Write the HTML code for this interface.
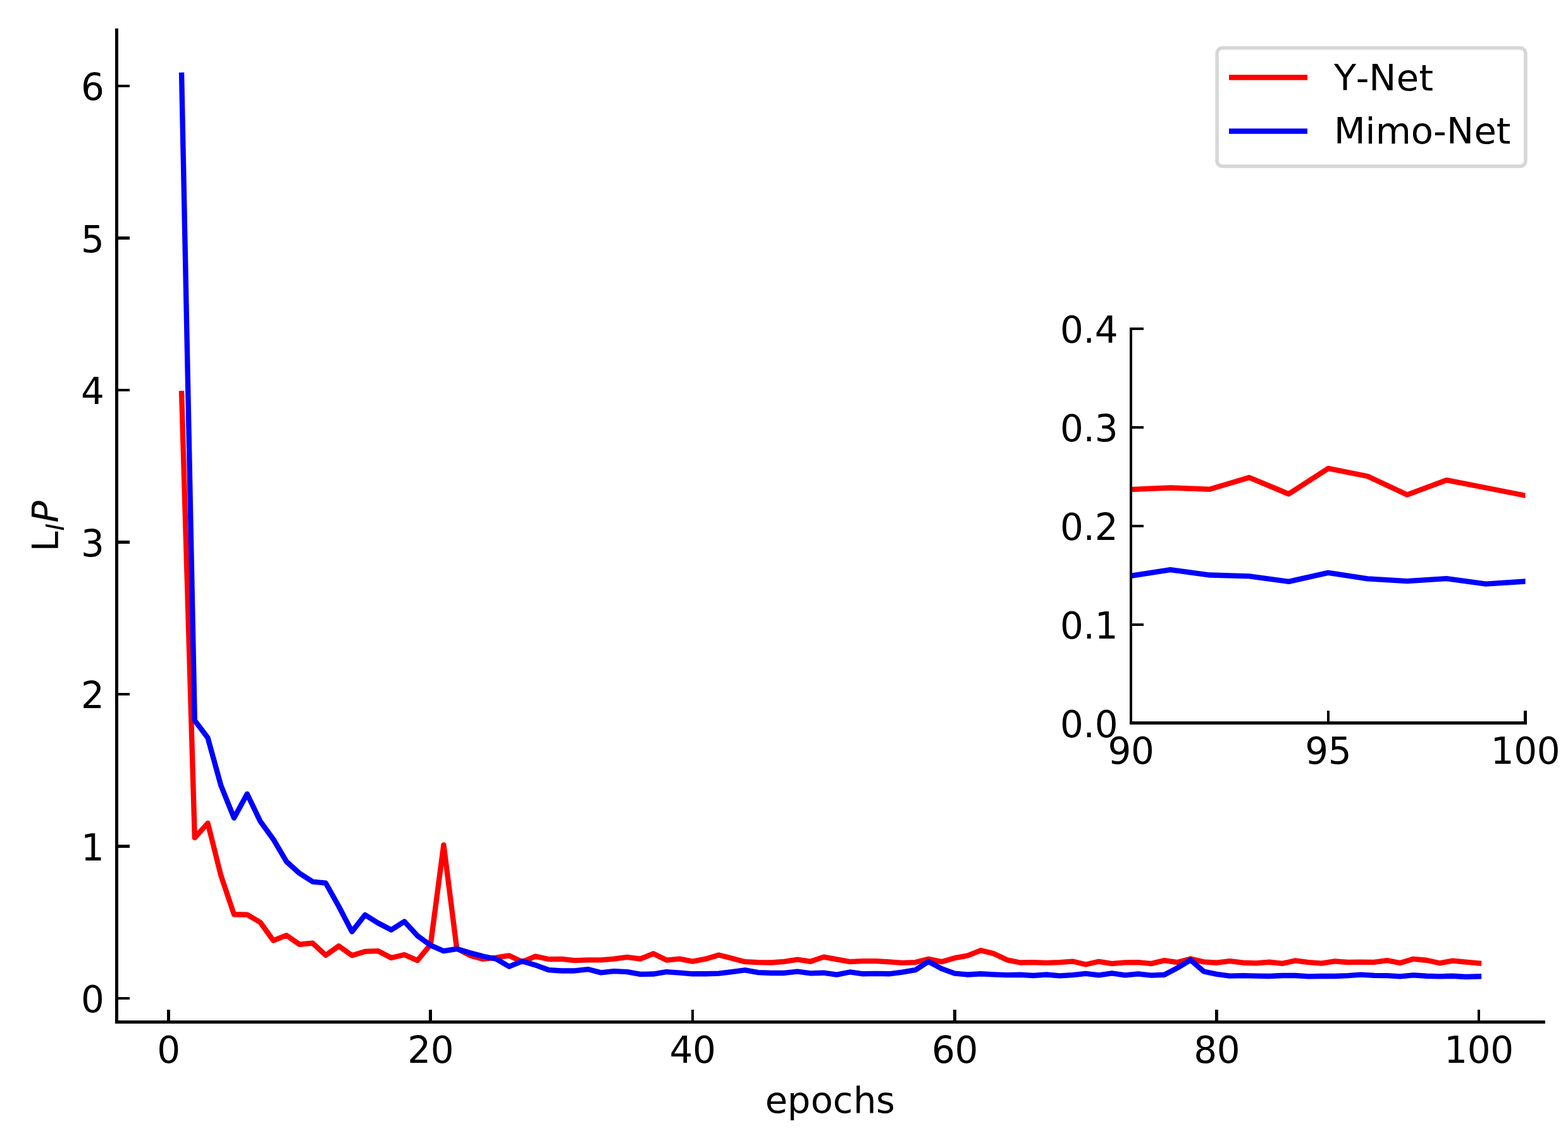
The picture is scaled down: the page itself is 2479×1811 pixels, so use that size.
<!DOCTYPE html>
<html lang="en"><head><meta charset="utf-8"><title>Loss curves: Y-Net vs Mimo-Net</title>
<style>
html,body{margin:0;padding:0;background:#fff;}
body{width:2479px;height:1811px;overflow:hidden;}
svg{display:block;}
svg{font-family:"DejaVu Sans", "Liberation Sans", sans-serif;font-size:57.6px;}
text{fill:#000;}
.tick{font-size:58px;}
.it{font-style:italic;}
</style></head><body>
<svg width="2479" height="1811" viewBox="0 0 2479 1811">
<rect x="0" y="0" width="2479" height="1811" fill="#ffffff"/>
<defs>
<clipPath id="cm"><rect x="184.5" y="47.5" width="2256.0" height="1569.0"/></clipPath>
<clipPath id="ci"><rect x="1788.0" y="520.0" width="623.5999999999999" height="623.5"/></clipPath>
</defs>
<g id="main-lines" clip-path="url(#cm)" fill="none" stroke-linejoin="round" stroke-linecap="square">
<polyline points="287.12,622.29 307.83,1325.03 328.55,1301.94 349.27,1384.68 369.98,1446.24 390.70,1446.72 411.41,1458.75 432.13,1487.61 452.85,1479.43 473.56,1493.74 494.28,1491.70 515.00,1510.94 535.71,1496.27 556.43,1511.18 577.14,1504.93 597.86,1504.20 618.58,1515.03 639.29,1509.98 660.01,1519.12 680.73,1493.86 701.44,1336.34 722.16,1500.12 742.87,1511.18 763.59,1516.95 784.31,1514.55 805.02,1511.42 825.74,1521.28 846.46,1512.67 867.17,1517.05 887.89,1516.81 908.61,1519.19 929.32,1518.30 950.04,1518.30 970.75,1516.71 991.47,1513.92 1012.19,1516.71 1032.90,1508.29 1053.62,1518.54 1074.34,1516.71 1095.05,1520.56 1115.77,1516.71 1136.48,1510.46 1157.20,1515.80 1177.92,1521.18 1198.63,1522.07 1219.35,1522.48 1240.07,1520.80 1260.78,1517.67 1281.50,1520.80 1302.22,1513.58 1322.93,1517.43 1343.65,1521.18 1364.36,1520.17 1385.08,1520.17 1405.80,1521.42 1426.51,1522.96 1447.23,1522.07 1467.95,1516.71 1488.66,1521.18 1509.38,1515.17 1530.09,1511.42 1550.81,1503.24 1571.53,1508.41 1592.24,1518.30 1612.96,1522.48 1633.68,1522.07 1654.39,1522.96 1675.11,1522.07 1695.82,1520.56 1716.54,1525.44 1737.26,1520.80 1757.97,1524.17 1778.69,1522.36 1799.41,1522.07 1820.12,1524.17 1840.84,1519.12 1861.56,1522.07 1882.27,1516.47 1902.99,1521.42 1923.70,1522.72 1944.42,1520.17 1965.14,1522.72 1985.85,1523.32 2006.57,1521.76 2027.29,1523.93 2048.00,1519.36 2068.72,1522.07 2089.43,1523.56 2110.15,1520.44 2130.87,1521.98 2151.58,1521.57 2172.30,1521.93 2193.02,1519.07 2213.73,1523.08 2234.45,1516.85 2255.16,1518.75 2275.88,1523.28 2296.60,1519.72 2317.31,1521.57 2338.03,1523.47" stroke="#ff0000" stroke-width="8.33"/>
<polyline points="287.12,118.83 307.83,1139.61 328.55,1167.02 349.27,1242.30 369.98,1293.77 390.70,1255.77 411.41,1298.82 432.13,1327.44 452.85,1362.55 473.56,1381.31 494.28,1394.54 515.00,1396.70 535.71,1433.74 556.43,1473.66 577.14,1446.97 597.86,1459.95 618.58,1470.78 639.29,1457.55 660.01,1480.01 680.73,1495.07 701.44,1504.20 722.16,1500.84 742.87,1507.09 763.59,1512.50 784.31,1516.71 805.02,1528.74 825.74,1520.20 846.46,1526.43 867.17,1534.03 887.89,1535.47 908.61,1535.47 929.32,1533.06 950.04,1538.36 970.75,1536.19 991.47,1537.15 1012.19,1540.86 1032.90,1540.52 1053.62,1537.15 1074.34,1538.72 1095.05,1540.28 1115.77,1540.28 1136.48,1539.61 1157.20,1537.15 1177.92,1534.34 1198.63,1538.12 1219.35,1538.98 1240.07,1538.98 1260.78,1536.72 1281.50,1539.32 1302.22,1538.72 1322.93,1541.60 1343.65,1537.47 1364.36,1540.28 1385.08,1539.92 1405.80,1540.28 1426.51,1537.71 1447.23,1534.22 1467.95,1520.80 1488.66,1532.10 1509.38,1539.61 1530.09,1541.48 1550.81,1540.28 1571.53,1541.36 1592.24,1542.11 1612.96,1541.72 1633.68,1543.00 1654.39,1541.48 1675.11,1543.41 1695.82,1542.11 1716.54,1539.85 1737.26,1542.35 1757.97,1539.32 1778.69,1542.35 1799.41,1540.28 1820.12,1542.68 1840.84,1541.72 1861.56,1530.90 1882.27,1518.27 1902.99,1536.46 1923.70,1540.86 1944.42,1543.65 1965.14,1543.17 1985.85,1543.65 2006.57,1543.98 2027.29,1543.00 2048.00,1543.00 2068.72,1544.37 2089.43,1543.98 2110.15,1543.98 2130.87,1543.05 2151.58,1541.55 2172.30,1542.85 2193.02,1543.14 2213.73,1544.44 2234.45,1542.30 2255.16,1543.77 2275.88,1544.32 2296.60,1543.72 2317.31,1545.02 2338.03,1544.39" stroke="#0000ff" stroke-width="8.33"/>
</g>
<g id="main-axes" fill="#000">
<rect x="182" y="45" width="5" height="1574"/>
<rect x="182" y="1614" width="2261" height="5"/>
<rect x="264" y="1597" width="5" height="19.5"/>
<rect x="678" y="1597" width="5" height="19.5"/>
<rect x="1093" y="1597" width="4" height="19.5"/>
<rect x="1507" y="1597" width="5" height="19.5"/>
<rect x="1921" y="1597" width="5" height="19.5"/>
<rect x="2336" y="1597" width="4" height="19.5"/>
<rect x="184.5" y="1577" width="20.5" height="4"/>
<rect x="184.5" y="1336" width="20.5" height="5"/>
<rect x="184.5" y="1096" width="20.5" height="4"/>
<rect x="184.5" y="855" width="20.5" height="5"/>
<rect x="184.5" y="615" width="20.5" height="4"/>
<rect x="184.5" y="374" width="20.5" height="5"/>
<rect x="184.5" y="134" width="20.5" height="4"/>
</g>
<g id="main-ticklabels" class="tick">
<text x="248.15" y="1680.90">0</text>
<text x="644.23 680.73" y="1680.90">20</text>
<text x="1058.55 1095.05" y="1680.90">40</text>
<text x="1472.88 1509.38" y="1680.90">60</text>
<text x="1887.20 1923.70" y="1680.90">80</text>
<text x="2283.28 2319.78 2356.28" y="1680.90">100</text>
<text x="128.00" y="1601.00">0</text>
<text x="128.00" y="1360.50">1</text>
<text x="128.00" y="1120.00">2</text>
<text x="128.00" y="879.50">3</text>
<text x="128.00" y="639.00">4</text>
<text x="128.00" y="398.50">5</text>
<text x="128.00" y="158.00">6</text>
</g>
<text id="xlabel" x="1209.7 1244.7 1281.7 1316.8 1349.0 1384.9" y="1759.6">epochs</text>
<g id="ylabel" transform="translate(92.1,872.6) rotate(-90)">
<text x="0" y="0">L<tspan class="it" font-size="39.6" x="33.0" y="8.9">I</tspan><tspan class="it" x="45.95" y="0">P</tspan></text>
</g>
<g id="legend">
<rect x="1924.05" y="75.8" width="487.85" height="187.25" rx="8.8" ry="8.8" fill="#ffffff" stroke="#d6d6d6" stroke-width="5.6"/>
<rect x="1943" y="118.3" width="124" height="8.4" fill="#ff0000"/>
<text x="2109.1 2143.7 2164.3 2207.8 2243.6" y="143">Y-Net</text>
<rect x="1943" y="203.3" width="124" height="8.4" fill="#0000ff"/>
<text x="2108.9 2158.5 2174.7 2230.7 2266.1 2287.1 2330.6 2365.8" y="227">Mimo-Net</text>
</g>
<g id="inset-lines" clip-path="url(#ci)" fill="none" stroke-linejoin="round" stroke-linecap="square">
<polyline points="1725.64,764.14 1788.00,774.12 1850.36,771.47 1912.72,773.81 1975.08,755.25 2037.44,781.30 2099.80,740.90 2162.16,753.22 2224.52,782.55 2286.88,759.46 2349.24,771.47 2411.60,783.80" stroke="#ff0000" stroke-width="8.33"/>
<polyline points="1725.64,916.86 1788.00,910.78 1850.36,901.11 1912.72,909.53 1975.08,911.40 2037.44,919.83 2099.80,905.94 2162.16,915.46 2224.52,919.05 2286.88,915.15 2349.24,923.57 2411.60,919.52" stroke="#0000ff" stroke-width="8.33"/>
</g>
<g id="inset-axes" fill="#000">
<rect x="1786" y="518" width="4" height="628"/>
<rect x="1786" y="1141" width="628" height="5"/>
<rect x="1786" y="1124" width="4" height="19.5"/>
<rect x="2098" y="1124" width="4" height="19.5"/>
<rect x="2409" y="1124" width="5" height="19.5"/>
<rect x="1788" y="1142" width="20" height="4"/>
<rect x="1788" y="986" width="20" height="4"/>
<rect x="1788" y="830" width="20" height="4"/>
<rect x="1788" y="674" width="20" height="4"/>
<rect x="1788" y="518" width="20" height="4"/>
</g>
<g id="inset-ticklabels" class="tick">
<text x="1751.50 1788.00" y="1207.50">90</text>
<text x="2063.30 2099.80" y="1207.50">95</text>
<text x="2356.85 2393.35 2429.85" y="1207.50">100</text>
<text x="1676.10 1712.60 1730.70" y="1165.65">0.0</text>
<text x="1676.10 1712.60 1730.70" y="1009.65">0.1</text>
<text x="1676.10 1712.60 1730.70" y="853.65">0.2</text>
<text x="1676.10 1712.60 1730.70" y="697.65">0.3</text>
<text x="1676.10 1712.60 1730.70" y="541.65">0.4</text>
</g>
</svg>
</body></html>
